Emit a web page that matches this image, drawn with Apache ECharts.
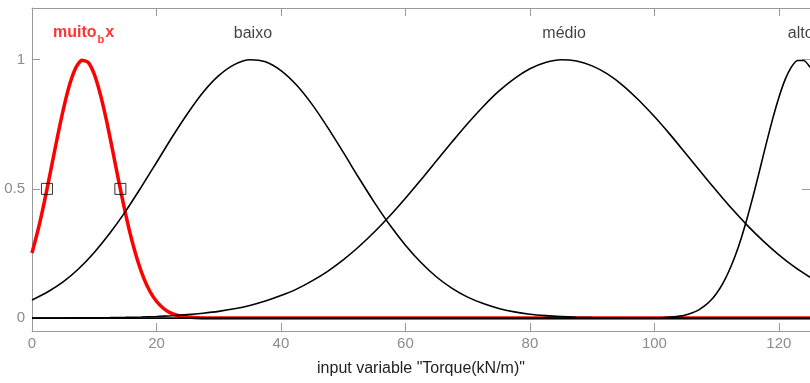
<!DOCTYPE html>
<html>
<head>
<meta charset="utf-8">
<script src="https://cdn.jsdelivr.net/npm/echarts@6/dist/echarts.min.js"></script>
<style>
  html, body { margin: 0; padding: 0; background: #fff; }
  #chart { width: 810px; height: 383px; }
</style>
</head>
<body>
<div id="chart"></div>
<script>
// funções de pertinência da entrada Torque
const torque = [0, 2.5, 5, 7.5, 10, 12.5, 15, 17.5, 20, 22.5, 25, 27.5, 30, 32.5, 35, 37.5, 40, 42.5, 45, 47.5,
    50, 52.5, 55, 57.5, 60, 62.5, 65, 67.5, 70, 72.5, 75, 77.5, 80, 82.5, 85, 87.5, 90, 92.5, 95, 97.5,
    100, 102.5, 105, 107.5, 110, 112.5, 115, 117.5, 120, 122.5, 125]

const baixo = [0.070, 0.101, 0.140, 0.191, 0.254, 0.328, 0.412, 0.505, 0.602, 0.700, 0.792, 0.874, 0.938, 0.981, 1.0, 0.992, 0.958, 0.902, 0.827, 0.738,
    0.642, 0.543, 0.448, 0.360, 0.282, 0.215, 0.159, 0.115, 0.081, 0.056, 0.037, 0.024, 0.015, 0.0095, 0.0057, 0.0033, 0.0019, 0.001, 0.0006, 0,
    0, 0, 0, 0, 0, 0, 0, 0, 0, 0, 0]

const medio = [0.0002, 0.0003, 0.0005, 0.0008, 0.0012, 0.0018, 0.0028, 0.0042, 0.0063, 0.0092, 0.0132, 0.0188, 0.026, 0.036, 0.049, 0.066, 0.087, 0.112, 0.144, 0.181,
    0.225, 0.276, 0.333, 0.396, 0.464, 0.535, 0.609, 0.682, 0.753, 0.819, 0.878, 0.927, 0.965, 0.989, 1.0, 0.995, 0.976, 0.944, 0.899, 0.843,
    0.780, 0.711, 0.638, 0.564, 0.492, 0.422, 0.357, 0.298, 0.245, 0.198, 0.158]

// alto sobe rápido perto da borda: amostras de 1 em 1
const torqueAlto = [0, 95, 97, 99, 100, 101, 102, 103, 104, 105, 106, 107, 108, 109, 110, 111, 112, 113, 114, 115,
    116, 117, 118, 119, 120, 121, 122, 123, 124, 125]
const alto = [0, 0, 0.0001, 0.0004, 0.0008, 0.0015, 0.0026, 0.0045, 0.0075, 0.0123, 0.0195, 0.030, 0.046, 0.067, 0.096, 0.134, 0.183, 0.242, 0.313, 0.395,
    0.485, 0.581, 0.678, 0.771, 0.854, 0.923, 0.971, 0.997, 0.997, 0.971]

// muito_bx (selecionada, em vermelho) é estreita: amostras mais finas
const torqueFino = [0, 1, 2, 3, 4, 5, 6, 7, 8, 9, 10, 11, 12, 13, 14, 15, 16, 17, 18, 19, 20, 21, 22, 23, 24, 25, 26, 28, 125]
const muitoBx = [0.252, 0.344, 0.452, 0.570, 0.691, 0.804, 0.900, 0.967, 0.998, 0.990, 0.944, 0.864, 0.761, 0.643, 0.522, 0.407, 0.305, 0.220, 0.152, 0.101,
    0.065, 0.040, 0.023, 0.013, 0.007, 0.004, 0.002, 0, 0]

// quadradinhos nos pontos de 0.5 da função selecionada
const meioX = [2.4, 14.2]
const meioY = [0.5, 0.5]

const mfNomes = ['muito_bx', 'baixo', 'médio', 'alto']
const mfCentros = [8.3, 35.5, 85.5, 123.5]
const nomeY = 1.1

const xTicks = [0, 20, 40, 60, 80, 100, 120]
const yTicks = [0, 0.5, 1]

const pares = (xs, ys) => xs.map((x, i) => [x, ys[i]])

const chart = echarts.init(document.getElementById('chart'))
const fonte = 'Liberation Sans, Arial, sans-serif'
const cinza = '#8c8c8c'

const rotulos = mfNomes.map((n, i) => {
    if (i === 0) {
        return {
            value: [mfCentros[i], nomeY],
            label: {
                formatter: '{m|muito}{s|b}{m|x}',
                rich: {
                    m: { fontSize: 16, fontWeight: 'bold', color: '#ff0000', fontFamily: fonte, verticalAlign: 'top', lineHeight: 18 },
                    s: { fontSize: 11, fontWeight: 'bold', color: '#ff0000', fontFamily: fonte, verticalAlign: 'top', lineHeight: 11, padding: [10, 1, 0, 1] }
                }
            }
        }
    }
    return { value: [mfCentros[i], nomeY], label: { formatter: n } }
})

const eixoX = (pos) => ({
    type: 'value', min: 0, max: 125, position: pos,
    axisLine: { onZero: false, lineStyle: { color: '#999', width: 1 } },
    axisTick: { inside: true, length: 8, customValues: xTicks, lineStyle: { color: '#999' } },
    splitLine: { show: false }
})

const eixoY = (pos) => ({
    type: 'value', min: -0.05, max: 1.2, position: pos,
    axisLine: { show: true, onZero: false, lineStyle: { color: '#999', width: 1 } },
    axisTick: { show: true, inside: true, length: 8, customValues: yTicks, lineStyle: { color: '#999' } },
    splitLine: { show: false }
})

const option = {
    animation: false,
    grid: { left: 32, top: 8, width: 782, height: 323 },
    xAxis: [
        Object.assign(eixoX('bottom'), {
            name: 'input variable "Torque(kN/m)"', nameLocation: 'middle', nameGap: 30,
            nameTextStyle: { color: '#222', fontSize: 16, fontFamily: fonte },
            axisLabel: { customValues: xTicks, color: cinza, fontSize: 15, fontFamily: fonte, margin: 5 }
        }),
        Object.assign(eixoX('top'), { axisLabel: { show: false } })
    ],
    yAxis: [
        Object.assign(eixoY('left'), {
            axisLabel: { customValues: yTicks, color: cinza, fontSize: 15, fontFamily: fonte, margin: 7 }
        }),
        Object.assign(eixoY('right'), { axisLabel: { show: false } })
    ],
    series: [
        {
            name: 'muito_bx', type: 'line', data: pares(torqueFino, muitoBx),
            smooth: 0.2, showSymbol: false, lineStyle: { color: '#ff0000', width: 3.5 }, z: 2
        },
        {
            name: 'baixo', type: 'line', data: pares(torque, baixo),
            smooth: 0.3, showSymbol: false, lineStyle: { color: '#000', width: 1.6 }, z: 3
        },
        {
            name: 'médio', type: 'line', data: pares(torque, medio),
            smooth: 0.3, showSymbol: false, lineStyle: { color: '#000', width: 1.6 }, z: 3
        },
        {
            name: 'alto', type: 'line', data: pares(torqueAlto, alto),
            smooth: 0.2, showSymbol: false, lineStyle: { color: '#000', width: 1.6 }, z: 3
        },
        {
            type: 'scatter', data: pares(meioX, meioY), symbol: 'rect', symbolSize: 11,
            itemStyle: { color: 'rgba(0,0,0,0)', borderColor: '#000', borderWidth: 1 }, z: 4
        },
        {
            type: 'scatter', data: rotulos, symbolSize: 0, z: 5,
            label: { show: true, position: 'inside', color: '#111', fontSize: 16, fontFamily: fonte }
        }
    ]
}

chart.setOption(option)
</script>
</body>
</html>
